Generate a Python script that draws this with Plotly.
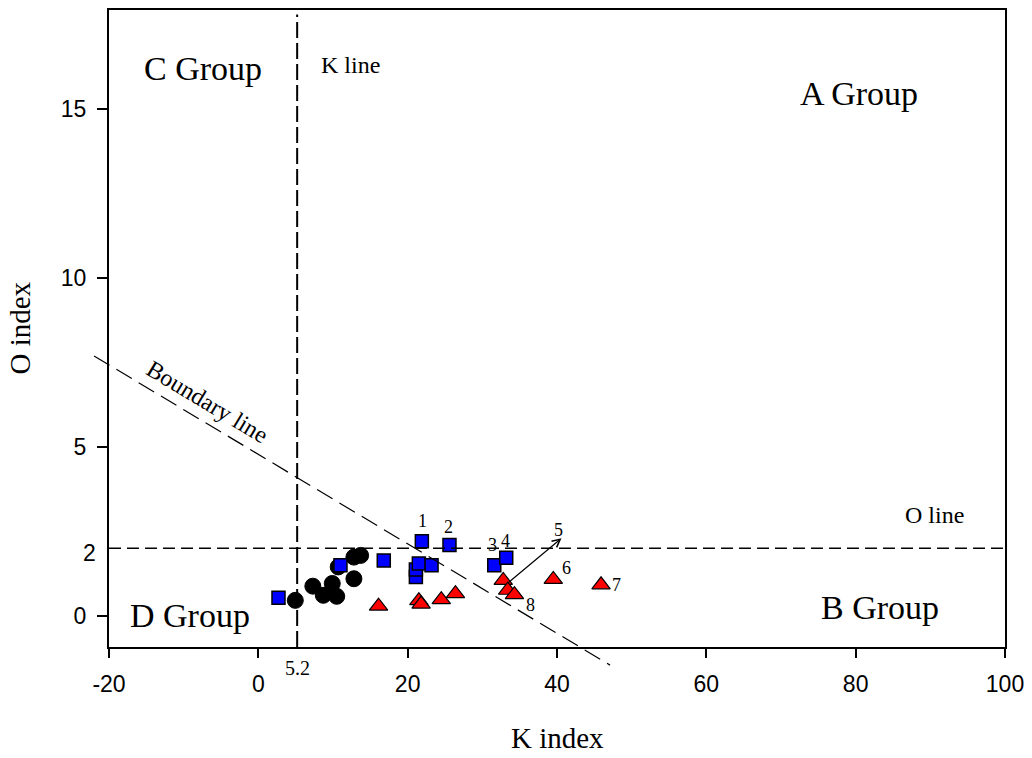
import plotly.graph_objects as go

# ---- sample values (K index, O index) ----
circle_k = [4.95, 7.3, 8.7, 9.9, 10.5, 12.8, 10.7, 12.8, 13.7]
circle_o = [0.46, 0.88, 0.61, 0.96, 0.58, 1.10, 1.45, 1.74, 1.79]

square_k = [2.7, 11.0, 16.8, 21.9, 25.6, 21.1, 21.1, 21.5, 23.2, 31.6, 33.2]
square_o = [0.54, 1.50, 1.64, 2.21, 2.10, 1.15, 1.37, 1.55, 1.50, 1.50, 1.72]

tri_k = [16.1, 21.5, 21.8, 24.5, 26.4, 32.8, 33.4, 34.3, 39.5, 45.9]
tri_o = [0.29, 0.45, 0.35, 0.48, 0.66, 1.05, 0.76, 0.63, 1.08, 0.92]

# numbered sample labels
label_text = ["1", "2", "3", "4", "5", "6", "7", "8"]
label_k = [22.0, 25.5, 31.3, 33.1, 40.2, 41.3, 48.0, 36.5]
label_o = [2.82, 2.63, 2.09, 2.23, 2.53, 1.43, 0.91, 0.32]

# arrow from sample 5 to its label
arrow_from = (33.3, 0.95)
arrow_to = (40.6, 2.30)

# reference lines
K_LINE = 5.2
O_LINE = 2.0
BOUNDARY_INTERCEPT = 4.78
BOUNDARY_SLOPE = -0.1324
BOUNDARY_K = (-22.0, 47.1)

X_RANGE = [-20, 100]
Y_RANGE = [-0.92, 17.93]
x_ticks = [-20, 0, 20, 40, 60, 80, 100]
x_tick_text = ["-20", "0", "20", "40", "60", "80", "100"]
y_ticks = [0, 5, 10, 15]
y_tick_text = ["0", "5", "10", "15"]

SERIF = "Liberation Serif, Times New Roman, serif"
SANS = "Liberation Sans, Arial, sans-serif"

fig = go.Figure()

fig.add_trace(go.Scatter(
    x=circle_k, y=circle_o, mode="markers",
    marker=dict(symbol="circle", size=16, color="black",
                line=dict(color="black", width=1)),
    showlegend=False, cliponaxis=False))
fig.add_trace(go.Scatter(
    x=square_k, y=square_o, mode="markers",
    marker=dict(symbol="square", size=13, color="#0000ff",
                line=dict(color="black", width=1.5)),
    showlegend=False, cliponaxis=False))
fig.add_trace(go.Scatter(
    x=tri_k, y=tri_o, mode="markers",
    marker=dict(symbol="triangle-up", size=16, color="#ff0000",
                line=dict(color="black", width=1.2)),
    showlegend=False, cliponaxis=False))


def to_paper_x(k):
    return (k - X_RANGE[0]) / (X_RANGE[1] - X_RANGE[0])


def to_paper_y(o):
    return (o - Y_RANGE[0]) / (Y_RANGE[1] - Y_RANGE[0])


shapes = [
    # K line
    dict(type="line", xref="x", yref="y", x0=K_LINE, x1=K_LINE,
         y0=Y_RANGE[0], y1=17.8,
         line=dict(color="black", width=2, dash="16px,5px")),
    # O line
    dict(type="line", xref="x", yref="y", x0=X_RANGE[0], x1=X_RANGE[1],
         y0=O_LINE, y1=O_LINE,
         line=dict(color="black", width=1.5, dash="12px,6px")),
    # boundary line (runs past the frame on both ends)
    dict(type="line", xref="paper", yref="paper",
         x0=to_paper_x(BOUNDARY_K[0]),
         y0=to_paper_y(BOUNDARY_INTERCEPT + BOUNDARY_SLOPE * BOUNDARY_K[0]),
         x1=to_paper_x(BOUNDARY_K[1]),
         y1=to_paper_y(BOUNDARY_INTERCEPT + BOUNDARY_SLOPE * BOUNDARY_K[1]),
         line=dict(color="black", width=1.2, dash="18px,8px")),
]

annotations = []


def note(text, x, y, size, font=SERIF, **kw):
    base = dict(text=text, x=x, y=y, xref="x", yref="y", showarrow=False,
                font=dict(family=font, size=size, color="black"))
    base.update(kw)
    annotations.append(base)


# group labels
note("C Group", -7.4, 16.2, 34)
note("A Group", 80.4, 15.45, 34)
note("D Group", -9.2, 0.0, 34)
note("B Group", 83.3, 0.25, 34)
note("K line", 12.4, 16.3, 24)
note("O line", 90.5, 3.0, 24)

# boundary line caption, sitting just above the line
bk = -6.8
note("Boundary line", bk, BOUNDARY_INTERCEPT + BOUNDARY_SLOPE * bk,
     24, textangle=31, yshift=22)

# sample numbers
for t, k, o in zip(label_text, label_k, label_o):
    note(t, k, o, 18)

# arrow to label 5
annotations.append(dict(
    x=arrow_to[0], y=arrow_to[1], ax=arrow_from[0], ay=arrow_from[1],
    xref="x", yref="y", axref="x", ayref="y", text="", showarrow=True,
    arrowhead=5, arrowsize=1.3, arrowwidth=1.2, arrowcolor="black"))

# value of the K line under the axis
annotations.append(dict(
    text="5.2", x=K_LINE, y=0, xref="x", yref="paper", yanchor="middle",
    yshift=-21, showarrow=False, font=dict(family=SERIF, size=20, color="black")))

# value of the O line beside the axis
annotations.append(dict(
    text="2", x=0, y=O_LINE, xref="paper", yref="y", xanchor="right",
    xshift=-11, yshift=-5, showarrow=False,
    font=dict(family=SANS, size=23, color="black")))

# axis titles
annotations.append(dict(
    text="K index", x=0.5, y=0, xref="paper", yref="paper", yanchor="middle",
    yshift=-91, showarrow=False, font=dict(family=SERIF, size=29, color="black")))
annotations.append(dict(
    text="O index", x=0, y=0.5, xref="paper", yref="paper", xanchor="center",
    xshift=-90, textangle=-90, showarrow=False,
    font=dict(family=SERIF, size=29, color="black")))

axis_common = dict(showgrid=False, zeroline=False, showline=True, mirror=True,
                   linecolor="black", linewidth=2, ticks="outside",
                   tickcolor="black", tickwidth=1.5, ticklabelstandoff=6,
                   tickfont=dict(family=SANS, size=23, color="black"))

fig.update_layout(
    width=1032, height=758,
    margin=dict(l=109, r=27, t=8, b=111),
    paper_bgcolor="white", plot_bgcolor="white",
    xaxis=dict(range=X_RANGE, tickvals=x_ticks, ticktext=x_tick_text,
               ticklen=9, **axis_common),
    yaxis=dict(range=Y_RANGE, tickvals=y_ticks, ticktext=y_tick_text,
               ticklen=10, **axis_common),
    shapes=shapes, annotations=annotations,
)

fig.write_html("out.html")
